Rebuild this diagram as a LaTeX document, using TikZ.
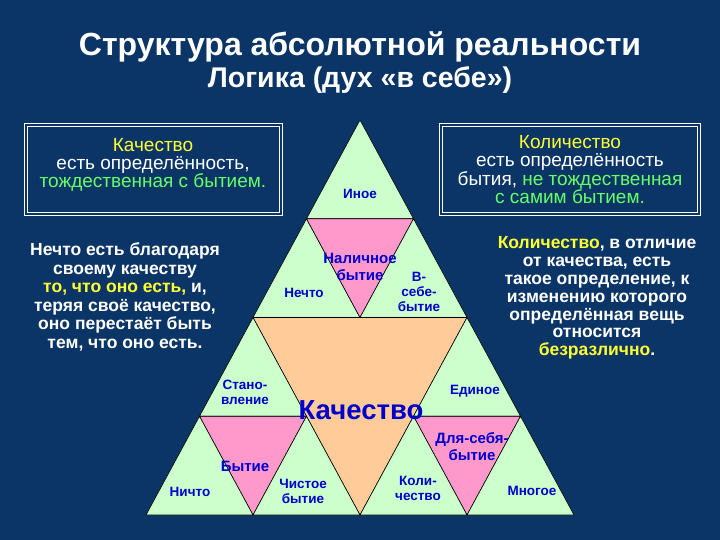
\documentclass[tikz,border=0pt]{standalone}
\usepackage{fontspec}
\setmainfont{Liberation Sans}
\definecolor{bg}{HTML}{0B3566}
\definecolor{tgreen}{HTML}{CCFFCC}
\definecolor{tpink}{HTML}{FF99CC}
\definecolor{torange}{HTML}{FFCC99}
\definecolor{lblue}{HTML}{0000CC}
\definecolor{ylw}{HTML}{FFFF33}
\definecolor{grn}{HTML}{66FF66}
\begin{document}
\begin{tikzpicture}[x=1pt,y=-1pt,
  tri/.style={draw=black,line width=0.6pt,line join=round},
  lbl/.style={text=lblue,font=\bfseries\fontsize{13.5}{15}\selectfont,align=center,inner sep=0pt},
  wtxt/.style={text=white,align=center,inner sep=0pt},
  bx/.style={draw=white,double=bg,double distance=1.2pt,line width=1pt}]
\fill[bg] (0,0) rectangle (720,540);
\useasboundingbox (0,0) rectangle (720,540);
\def\ya{120}\def\yb{218.75}\def\yc{317.5}\def\yd{416.25}\def\ye{515}
% triangles
\fill[tgreen,tri] (360,\ya)--(306.5,\yb)--(413.5,\yb)--cycle;
\fill[tgreen,tri] (306.5,\yb)--(253,\yc)--(360,\yc)--cycle;
\fill[tpink,tri] (306.5,\yb)--(413.5,\yb)--(360,\yc)--cycle;
\fill[tgreen,tri] (413.5,\yb)--(360,\yc)--(467,\yc)--cycle;
\fill[torange,tri] (253,\yc)--(467,\yc)--(360,\ye)--cycle;
\fill[tgreen,tri] (253,\yc)--(199.5,\yd)--(306.5,\yd)--cycle;
\fill[tpink,tri] (199.5,\yd)--(306.5,\yd)--(253,\ye)--cycle;
\fill[tgreen,tri] (199.5,\yd)--(146,\ye)--(253,\ye)--cycle;
\fill[tgreen,tri] (306.5,\yd)--(253,\ye)--(360,\ye)--cycle;
\fill[tgreen,tri] (467,\yc)--(413.5,\yd)--(520.5,\yd)--cycle;
\fill[tpink,tri] (413.5,\yd)--(520.5,\yd)--(467,\ye)--cycle;
\fill[tgreen,tri] (413.5,\yd)--(360,\ye)--(467,\ye)--cycle;
\fill[tgreen,tri] (520.5,\yd)--(467,\ye)--(574,\ye)--cycle;
% labels
\node[lbl] (ino) at (360,194) {Иное};
\node[lbl,font=\bfseries\fontsize{15}{17}\selectfont] (nal) at (360,267) {Наличное\\бытие};
\node[lbl] (ne) at (304,293) {Нечто};
\node[lbl] (vs) at (419,292) {В-\\себе-\\бытие};
\node[lbl] (st) at (245,392) {Стано-\\вление};
\node[lbl,font=\bfseries\fontsize{27.5}{30}\selectfont] (kach) at (361,410) {Качество};
\node[lbl] (ed) at (475,391) {Единое};
\node[lbl,font=\bfseries\fontsize{15}{16}\selectfont] (byt) at (245,466) {Бытие};
\node[lbl] (ni) at (190,492) {Ничто};
\node[lbl] (chb) at (303,491) {Чистое\\бытие};
\node[lbl] (kol) at (418,488) {Коли-\\чество};
\node[lbl,font=\bfseries\fontsize{15}{17}\selectfont] (dsb) at (472,447) {Для-себя-\\бытие};
\node[lbl] (mn) at (532,491) {Многое};
% title
\node[text=white,font=\bfseries\fontsize{32}{34}\selectfont,inner sep=0pt] (t1) at (360,47) {Структура абсолютной реальности};
\node[text=white,font=\bfseries\fontsize{28.5}{30}\selectfont,inner sep=0pt] (t2) at (360,80) {Логика (дух «в себе»)};
% boxes
\draw[bx] (26,125) rectangle (281,214);
\node[wtxt,font=\fontsize{19}{18}\selectfont] (bl) at (153,165) {\textcolor{ylw}{Качество}\\есть определённость,\\\textcolor{grn}{тождественная с бытием.}};
\draw[bx] (441,125) rectangle (699,214);
\node[wtxt,font=\fontsize{19}{17.5}\selectfont] (br) at (570,170) {\textcolor{ylw}{Количество}\\есть определённость\\бытия, \textcolor{grn}{не тождественная}\\\textcolor{grn}{с самим бытием.}};
% paragraphs
\node[wtxt,font=\bfseries\fontsize{17.5}{18.5}\selectfont] (pl) at (125,297) {Нечто есть благодаря\\своему качеству\\\textcolor{ylw}{то, что оно есть,} и,\\теряя своё качество,\\оно перестаёт быть\\тем, что оно есть.};
\node[wtxt,font=\bfseries\fontsize{17.5}{17.8}\selectfont] (pr) at (597,298) {\textcolor{ylw}{Количество}, в отличие\\от качества, есть\\такое определение, к\\изменению которого\\определённая вещь\\относится\\\textcolor{ylw}{безразлично}.};
\end{tikzpicture}
\end{document}
